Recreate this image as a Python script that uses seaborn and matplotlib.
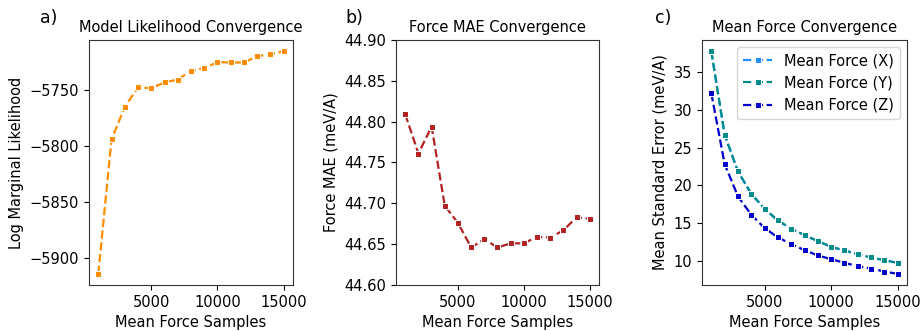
import numpy as np
import pandas as pd
import matplotlib
matplotlib.use("Agg")
import matplotlib.pyplot as plt
import seaborn as sns

samples = [1000, 2000, 3000, 4000, 5000, 6000, 7000, 8000, 9000, 10000,
           11000, 12000, 13000, 14000, 15000]
log_likelihood = [-5913.7, -5793.9, -5764.9, -5747.6, -5748.2, -5743.1, -5740.5,
                  -5732.8, -5730.4, -5725.0, -5725.3, -5725.3, -5719.7, -5717.9, -5715.2]
force_mae = [44.809, 44.761, 44.794, 44.697, 44.676, 44.646, 44.656, 44.646,
             44.651, 44.651, 44.659, 44.658, 44.667, 44.683, 44.681]
mse_x = [37.75, 26.70, 21.84, 18.87, 16.88, 15.34, 14.24, 13.40, 12.60, 11.85,
         11.36, 10.87, 10.43, 10.08, 9.72]
mse_y = [37.79, 26.73, 21.86, 18.89, 16.90, 15.35, 14.25, 13.41, 12.61, 11.86,
         11.37, 10.88, 10.44, 10.09, 9.73]
mse_z = [32.21, 22.83, 18.54, 16.11, 14.34, 13.10, 12.21, 11.42, 10.71, 10.22,
         9.73, 9.29, 8.98, 8.58, 8.27]

FS = 10.5
plt.rcParams['font.family'] = ['DejaVu Sans']
plt.rcParams['font.size'] = FS
plt.rcParams['axes.edgecolor'] = '#333333'
plt.rcParams['lines.linewidth'] = 1.6

fig = plt.figure(figsize=(9.23, 3.31), dpi=100)
W, H = 923, 331
def add_ax(l, r, t, b):
    return fig.add_axes([l / W, 1 - b / H, (r - l) / W, (b - t) / H])

ax1 = add_ax(89, 293, 40, 285)
ax2 = add_ax(396, 599, 40, 285)
ax3 = add_ax(702, 907, 40, 285)

ms = 5
sns.lineplot(x=samples, y=log_likelihood, ax=ax1, color="darkorange",
             marker="s", linestyle="--", markersize=ms)
ax1.set_title("Model Likelihood Convergence", fontsize=FS)
ax1.set_xlabel("Mean Force Samples", fontsize=FS)
ax1.set_ylabel("Log Marginal Likelihood", fontsize=FS)
ax1.set_xticks([5000, 10000, 15000])
ax1.set_yticks([-5900, -5850, -5800, -5750])

sns.lineplot(x=samples, y=force_mae, ax=ax2, color="firebrick",
             marker="s", linestyle="--", markersize=ms)
ax2.set_title("Force MAE Convergence", fontsize=FS)
ax2.set_xlabel("Mean Force Samples", fontsize=FS)
ax2.set_ylabel("Force MAE (meV/A)", fontsize=FS)
ax2.set_ylim(44.60, 44.90)
ax2.set_yticks([44.60, 44.65, 44.70, 44.75, 44.80, 44.85, 44.90])
ax2.set_xticks([5000, 10000, 15000])

sns.lineplot(x=samples, y=mse_x, ax=ax3, color="dodgerblue", marker="s",
             linestyle="--", markersize=ms, label="Mean Force (X)")
sns.lineplot(x=samples, y=mse_y, ax=ax3, color="darkcyan", marker="s",
             linestyle="--", markersize=ms, label="Mean Force (Y)")
sns.lineplot(x=samples, y=mse_z, ax=ax3, color="mediumblue", marker="s",
             linestyle="--", markersize=ms, label="Mean Force (Z)")
ax3.set_title("Mean Force Convergence", fontsize=FS)
ax3.set_xlabel("Mean Force Samples", fontsize=FS)
ax3.set_ylabel("Mean Standard Error (meV/A)", fontsize=FS)
ax3.set_xticks([5000, 10000, 15000])
ax3.set_yticks([10, 15, 20, 25, 30, 35])
ax3.legend(loc="upper right", fontsize=FS)

for ax in (ax1, ax2, ax3):
    ax.tick_params(labelsize=FS)

fig.text(40 / W, 1 - 18 / H, "a)", fontsize=12.5, ha="left", va="center")
fig.text(345 / W, 1 - 18 / H, "b)", fontsize=12.5, ha="left", va="center")
fig.text(655 / W, 1 - 18 / H, "c)", fontsize=12.5, ha="left", va="center")

fig.savefig("out.png", dpi=100)
